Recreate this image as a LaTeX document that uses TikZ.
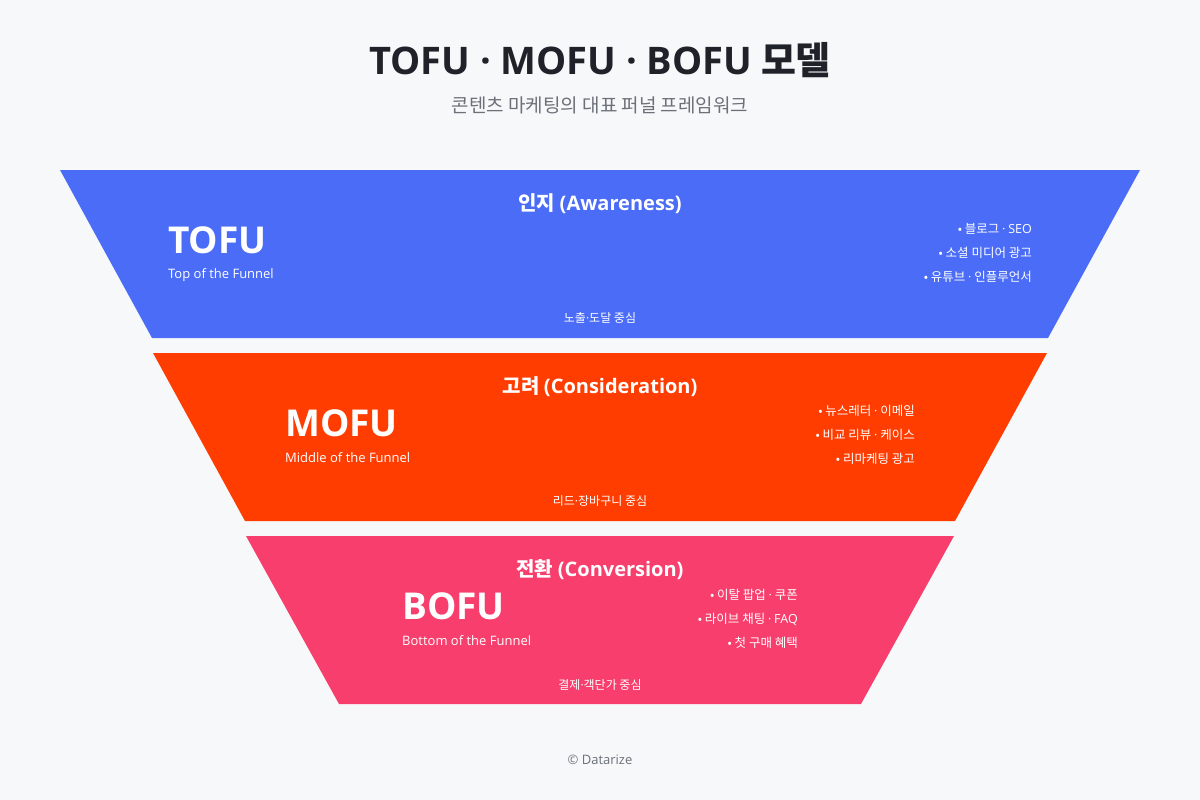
\documentclass[tikz,border=0pt]{standalone}
\usepackage{fontspec}
\setmainfont{Noto Sans CJK KR}
\newfontfamily\lat{Open Sans}
\newcommand{\md}{{\lat ·}}
\definecolor{bg}{HTML}{F7F8FA}
\definecolor{tofu}{HTML}{4A6CF7}
\definecolor{mofu}{HTML}{FF3D00}
\definecolor{bofu}{HTML}{F73E6C}
\definecolor{ttl}{HTML}{1F2329}
\definecolor{sub}{HTML}{6B7079}
\begin{document}
\begin{tikzpicture}[x=1pt,y=-1pt,
  stage/.style={font=\fontsize{20}{24}\selectfont\bfseries,text=white},
  big/.style={anchor=west,font=\lat\bfseries\fontsize{37}{42}\selectfont,text=white,inner sep=0},
  small/.style={anchor=west,font=\lat\fontsize{13}{15}\selectfont,text=white,inner sep=0},
  bul/.style={anchor=east,font=\fontsize{12.5}{15}\selectfont,text=white,inner sep=0},
  foot/.style={font=\fontsize{12}{14}\selectfont,text=white}]
\fill[bg] (0,0) rectangle (1200,800);
\useasboundingbox (0,0) rectangle (1200,800);
\node[font=\fontsize{38}{44}\selectfont\bfseries,text=ttl] (title) at (600,60) {{\lat\bfseries TOFU · MOFU · BOFU} 모델};
\node[font=\fontsize{19}{22}\selectfont,text=sub] (subt) at (600,105) {콘텐츠 마케팅의 대표 퍼널 프레임워크};
\fill[tofu] (60,170) -- (1140,170) -- (1048,338) -- (152,338) -- cycle;
\fill[mofu] (153,353) -- (1047,353) -- (955,521) -- (245,521) -- cycle;
\fill[bofu] (246,536) -- (954,536) -- (861,704) -- (339,704) -- cycle;
% TOFU
\node[stage] (t1) at (600,204) {인지 {\lat\bfseries (Awareness)}};
\node[big] (t2) at (168,240) {TOFU};
\node[small] (t3) at (168,275) {Top of the Funnel};
\node[bul] (t4) at (1032,229) {• 블로그 \md{} {\lat SEO}};
\node[bul] (t5) at (1032,253) {• 소셜 미디어 광고};
\node[bul] (t6) at (1032,277) {• 유튜브 \md{} 인플루언서};
\node[foot] (t7) at (600,318) {노출\md 도달 중심};
% MOFU
\node[stage] (m1) at (600,387) {고려 {\lat\bfseries (Consideration)}};
\node[big] (m2) at (285,423) {MOFU};
\node[small] (m3) at (285,458) {Middle of the Funnel};
\node[bul] (m4) at (915,411) {• 뉴스레터 \md{} 이메일};
\node[bul] (m5) at (915,435) {• 비교 리뷰 \md{} 케이스};
\node[bul] (m6) at (915,459) {• 리마케팅 광고};
\node[foot] (m7) at (600,501) {리드\md 장바구니 중심};
% BOFU
\node[stage] (b1) at (600,570) {전환 {\lat\bfseries (Conversion)}};
\node[big] (b2) at (402,606) {BOFU};
\node[small] (b3) at (402,641) {Bottom of the Funnel};
\node[bul] (b4) at (798,595) {• 이탈 팝업 \md{} 쿠폰};
\node[bul] (b5) at (798,619) {• 라이브 채팅 \md{} {\lat FAQ}};
\node[bul] (b6) at (798,643) {• 첫 구매 혜택};
\node[foot] (b7) at (600,685) {결제\md 객단가 중심};
\node[font=\lat\fontsize{13}{15}\selectfont,text=sub] (cr) at (600,760) {© Datarize};
\end{tikzpicture}
\end{document}
